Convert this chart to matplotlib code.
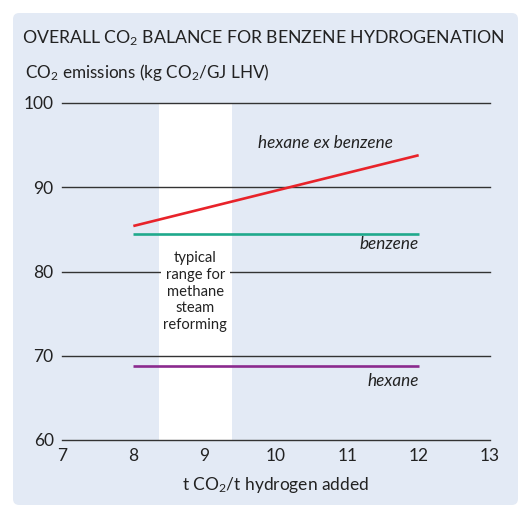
import matplotlib
matplotlib.use("Agg")
import matplotlib.pyplot as plt
from matplotlib.patches import FancyBboxPatch

# Data
x_start, x_end = 8, 12
hexane_ex_benzene = [85.4, 93.8]
benzene = [84.5, 84.5]
hexane = [68.8, 68.8]
smr_range = (8.36, 9.38)
xticks = [7, 8, 9, 10, 11, 12, 13]
yticks = [60, 70, 80, 90, 100]

plt.rcParams['font.family'] = ['Lato', 'DejaVu Sans']
plt.rcParams['mathtext.default'] = 'regular'

W, H = 521, 517
fig = plt.figure(figsize=(W / 100, H / 100), dpi=100)
fig.patch.set_facecolor('white')

bg = '#e3eaf5'
panel = FancyBboxPatch((13 / W, 1 - 505 / H), (518 - 13) / W, (505 - 13) / H,
                       boxstyle='round,pad=0,rounding_size=0.012',
                       transform=fig.transFigure, facecolor=bg, edgecolor='none', zorder=-5)
fig.patches.append(panel)

ax = fig.add_axes([62 / W, 1 - 440 / H, (490 - 62) / W, (440 - 103) / H])
ax.set_zorder(1)
ax.set_facecolor('none')
ax.set_xlim(7, 13)
ax.set_ylim(60, 100)

ax.axvspan(smr_range[0], smr_range[1], color='white', zorder=1, lw=0)

for y in yticks:
    ax.axhline(y, color='#333333', lw=1.0, zorder=2, clip_on=False)

xs = [x_start, x_end]
ax.plot(xs, hexane_ex_benzene, color='#e8232a', lw=1.9, zorder=3, solid_capstyle='butt')
ax.plot(xs, benzene, color='#1fa98c', lw=1.9, zorder=3, solid_capstyle='butt')
ax.plot(xs, hexane, color='#8b2a8e', lw=1.9, zorder=3, solid_capstyle='butt')

ax.text(10.7, 95.3, 'hexane ex benzene', style='italic', fontsize=12.3, ha='center', va='center',
        color='#222222', zorder=4)
ax.text(12, 83.3, 'benzene', style='italic', fontsize=12.3, ha='right', va='center', color='#222222', zorder=4)
ax.text(12, 67.0, 'hexane', style='italic', fontsize=12.3, ha='right', va='center', color='#222222', zorder=4)
ax.text(8.87, 77.6, 'typical\nrange for\nmethane\nsteam\nreforming', fontsize=10.6, ha='center', va='center',
        color='#222222', linespacing=1.25, zorder=4,
        bbox=dict(facecolor='white', edgecolor='none', pad=2))

for s in ax.spines.values():
    s.set_visible(False)
ax.set_xticks(xticks)
ax.set_xticklabels([str(t) for t in xticks], fontsize=12.5, color='#222222')
ax.set_yticks(yticks)
ax.set_yticklabels([str(t) for t in yticks], fontsize=12.5, color='#222222')
ax.tick_params(axis='both', length=0)
ax.tick_params(axis='x', pad=6)
ax.tick_params(axis='y', pad=6)
ax.set_xlabel('t CO$_2$/t hydrogen added', fontsize=12.5, color='#222222', labelpad=8)

fig.text(22 / W, 1 - 38 / H, 'OVERALL CO$_2$ BALANCE FOR BENZENE HYDROGENATION', fontsize=12.7,
         ha='left', va='center', color='#222222')
fig.text(25 / W, 1 - 73 / H, 'CO$_2$ emissions (kg CO$_2$/GJ LHV)', fontsize=12.3,
         ha='left', va='center', color='#222222')

fig.savefig('out.png', dpi=100, facecolor='white')
